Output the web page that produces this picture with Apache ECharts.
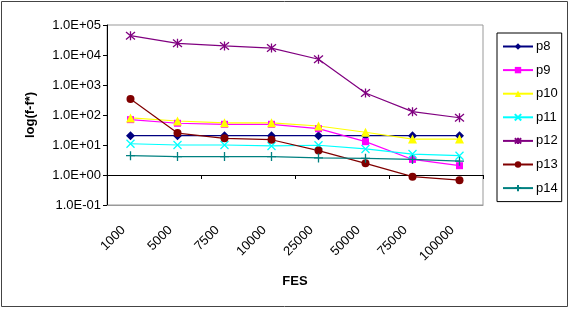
<!doctype html>
<html>
<head>
<meta charset="utf-8">
<title>log(f-f*) vs FES</title>
<script src="https://cdn.jsdelivr.net/npm/echarts@6/dist/echarts.min.js"></script>
<style>
  html, body { margin: 0; padding: 0; background: #fff; }
  #chart { width: 569px; height: 310px; }
</style>
</head>
<body>
<div id="chart"></div>
<script>
// data
var fes = ['1000', '5000', '7500', '10000', '25000', '50000', '75000', '100000'];
var p8  = [20.4, 20.4, 20.4, 20.4, 20.4, 20.4, 20.4, 20.4];
var p9  = [70, 53, 49, 49, 35, 12.9, 3.3, 2.04];
var p10 = [80, 63, 55, 55, 43, 26.6, 15.8, 15.8];
var p11 = [11, 10, 10, 9.3, 9.8, 7.4, 5.0, 4.4];
var p12 = [44000, 24500, 20000, 17000, 7200, 540, 129, 81];
var p13 = [340, 25, 16.7, 15, 6.5, 2.45, 0.88, 0.67];
var p14 = [4.4, 4.1, 4.1, 4.1, 3.7, 3.6, 3.3, 2.9];

var font = 'Liberation Sans';
var crossX = 'path://M0,0L10,10M10,0L0,10';
var star = 'path://M0,0L10,10M10,0L0,10M5,-1L5,11';
var plus = 'path://M5,0L5,10M0,5L10,5';

function mk(name, data, color, symbol, size, stroked) {
  return {
    name: name,
    type: 'line',
    xAxisIndex: 0,
    yAxisIndex: 0,
    data: data,
    symbol: symbol,
    symbolSize: size,
    lineStyle: { color: color, width: 1.2 },
    itemStyle: stroked ? { color: color, borderColor: color, borderWidth: 1.3 } : { color: color, borderWidth: 0 },
    emphasis: { disabled: true }
  };
}

function expLabel(v) {
  var e = Math.round(Math.log(v) / Math.LN10);
  var a = Math.abs(e);
  return '1.0E' + (e < 0 ? '-' : '+') + (a < 10 ? '0' : '') + a;
}

var chart = echarts.init(document.getElementById('chart'));
chart.setOption({
  animation: false,
  textStyle: { fontFamily: font, color: '#000' },
  graphic: [{
    type: 'rect', shape: { x: 1.5, y: 1.5, width: 566, height: 305 },
    style: { fill: null, stroke: '#444', lineWidth: 1 }, silent: true
  }],
  legend: {
    orient: 'vertical',
    left: 497, top: 33,
    padding: [7, 4, 7, 5],
    itemWidth: 30, itemHeight: 8, itemGap: 10.6,
    borderColor: '#000', borderWidth: 1,
    backgroundColor: '#fff',
    textStyle: { fontFamily: font, fontSize: 13, color: '#000', padding: [0, 0, 0, -2] },
    data: ['p8', 'p9', 'p10', 'p11', 'p12', 'p13', 'p14']
  },
  grid: [
    { left: 107, top: 25, width: 376, height: 180, show: true, borderColor: '#999', borderWidth: 1, backgroundColor: '#fff' },
    { left: 107, top: 25, width: 376, height: 150 }
  ],
  xAxis: [{
    gridIndex: 0,
    type: 'category',
    data: fes,
    boundaryGap: true,
    axisLine: { lineStyle: { color: '#999' } },
    axisTick: { show: false },
    axisLabel: { rotate: 45, fontSize: 13, color: '#000', margin: 16, padding: [0, 10, 0, 0], interval: 0 },
    name: 'FES',
    nameLocation: 'middle',
    nameGap: 70,
    nameTextStyle: { fontWeight: 'bold', fontSize: 13, color: '#000' }
  }, {
    gridIndex: 1,
    type: 'category',
    data: fes,
    boundaryGap: true,
    axisLine: { lineStyle: { color: '#000' } },
    axisTick: { show: true, length: 4, lineStyle: { color: '#000' } },
    axisLabel: { show: false }
  }],
  yAxis: [{
    gridIndex: 0,
    type: 'log',
    logBase: 10,
    min: 0.1,
    max: 100000,
    axisLine: { show: true, lineStyle: { color: '#000' } },
    axisTick: { show: true, length: 4, lineStyle: { color: '#000' } },
    splitLine: { show: false },
    axisLabel: { fontSize: 13, color: '#000', margin: 6, formatter: expLabel },
    name: 'log(f-f*)',
    nameLocation: 'middle',
    nameGap: 70,
    nameTextStyle: { fontWeight: 'bold', fontSize: 13, color: '#000' }
  }, {
    gridIndex: 1,
    type: 'value',
    min: 0, max: 1,
    show: false
  }],
  series: [
    mk('p8', p8, '#000080', 'diamond', 9, false),
    mk('p9', p9, '#FF00FF', 'rect', 7, false),
    mk('p10', p10, '#FFFF00', 'triangle', 9, false),
    mk('p11', p11, '#00FFFF', crossX, 8, true),
    mk('p12', p12, '#800080', star, 9, true),
    mk('p13', p13, '#800000', 'circle', 8, false),
    mk('p14', p14, '#008080', plus, 9, true)
  ]
});
</script>
</body>
</html>
